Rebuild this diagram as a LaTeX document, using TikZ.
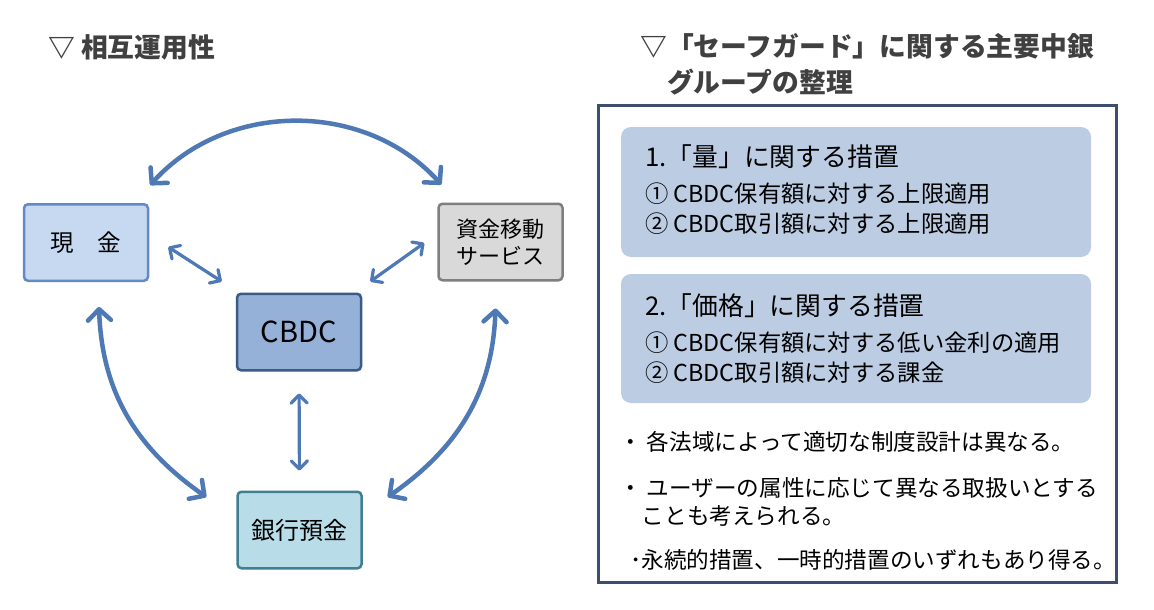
\documentclass[tikz,border=0pt]{standalone}
\usepackage{fontspec}
\setmainfont{Noto Sans CJK JP}
\usepackage{tikz}
\usetikzlibrary{calc,arrows.meta,positioning}
\definecolor{arrowblue}{HTML}{4E79B5}
\definecolor{cashfill}{HTML}{C6D9F1}
\definecolor{cashline}{HTML}{6589C4}
\definecolor{cbdcfill}{HTML}{95B1D8}
\definecolor{cbdcline}{HTML}{3B5A86}
\definecolor{depfill}{HTML}{B9DDE8}
\definecolor{depline}{HTML}{3F7F91}
\definecolor{svcfill}{HTML}{D9D9D9}
\definecolor{svcline}{HTML}{7F7F7F}
\definecolor{panelfill}{HTML}{BBCCE3}
\definecolor{frameline}{HTML}{3E4F6E}
\definecolor{titlegray}{HTML}{404040}
\tikzset{
  ar/.style={{Straight Barb[length=11pt,width=23pt,round]}-{Straight Barb[length=11pt,width=23pt,round]},line width=4.5pt,arrowblue},
  arsm/.style={{Straight Barb[length=8pt,width=16pt,round]}-{Straight Barb[length=8pt,width=16pt,round]},line width=3.2pt,arrowblue},
  box/.style={line width=2.5pt,rounded corners=4pt,minimum width=124pt,minimum height=76.5pt,align=center,inner sep=0pt,font=\fontsize{23.5}{27}\selectfont},
  panel/.style={fill=panelfill,rounded corners=10pt},
  ttl/.style={font=\fontsize{26.8}{36}\selectfont\bfseries,text=titlegray,anchor=west,inner sep=0pt,align=left},
  head/.style={font=\fontsize{25.8}{30}\selectfont,anchor=west,inner sep=0pt},
  item/.style={font=\fontsize{23.3}{28}\selectfont,anchor=west,inner sep=0pt},
  note/.style={font=\fontsize{22.6}{28}\selectfont,anchor=west,inner sep=0pt,align=left}
}
\begin{document}
\begin{tikzpicture}[x=1pt,y=1pt]
\useasboundingbox[fill=white] (0,0) rectangle (1154,-610);
\node[ttl] (lefttitle) at (48,-47) {▽ 相互運用性};
\node[box,fill=cashfill,draw=cashline] (genkin) at (86,-242.5) {現　金};
\node[box,fill=svcfill,draw=svcline,font=\fontsize{22}{27}\selectfont] (shikin) at (500.5,-242) {資金移動\\サービス};
\node[box,fill=cbdcfill,draw=cbdcline,font=\fontsize{29}{30}\selectfont] (cbdc) at (299,-332) {CBDC};
\node[box,fill=depfill,draw=depline,font=\fontsize{24}{27}\selectfont] (yokin) at (299.5,-530) {銀行預金};
\draw[ar] ($(genkin.north east)+(1,18)$) to[out=48,in=132] ($(shikin.north west)+(4,18)$);
\draw[ar] ($(genkin.south)+(13,-25)$) to[out=-88,in=145] ($(yokin.west)+(-30,33)$);
\draw[ar] ($(shikin.south)+(-5,-27)$) to[out=-92,in=35] ($(yokin.east)+(25,33)$);
\draw[arsm] ($(genkin.east)+(19,-4.5)$) -- ($(cbdc.north west)+(-14,11)$);
\draw[arsm] ($(shikin.west)+(-13,-1)$) -- ($(cbdc.north east)+(8,11)$);
\draw[arsm,shorten <=22pt,shorten >=20pt] (cbdc.south) -- (yokin.north);
\node[ttl] (righttitle) at (640,-64) {▽「セーフガード」に関する主要中銀\\\hspace*{1em}グループの整理};
\draw[frameline,line width=3pt] (598,-105) rectangle (1116,-582);
\path[panel] (621,-127) rectangle (1091,-257);
\path[panel] (621,-274) rectangle (1091,-403);
\node[head] (qtyhead) at (645,-157) {1.「量」に関する措置};
\node[item] (qty1) at (645,-194) {① CBDC保有額に対する上限適用};
\node[item] (qty2) at (645,-224) {② CBDC取引額に対する上限適用};
\node[head] (prchead) at (645,-306) {2.「価格」に関する措置};
\node[item] (prc1) at (645,-343) {① CBDC保有額に対する低い金利の適用};
\node[item] (prc2) at (645,-373) {② CBDC取引額に対する課金};
\node[note] (note1) at (619,-442) {・ 各法域によって適切な制度設計は異なる。};
\node[note] (note2) at (619,-502) {・ ユーザーの属性に応じて異なる取扱いとする\\\hspace*{1em}ことも考えられる。};
\node[note] (note3) at (630,-560) {･永続的措置、一時的措置のいずれもあり得る。};
\end{tikzpicture}
\end{document}
